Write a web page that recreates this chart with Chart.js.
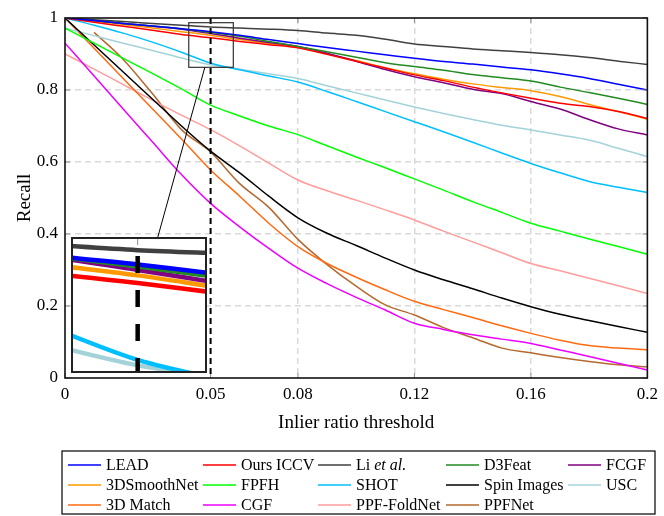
<!DOCTYPE html>
<html>
<head>
<meta charset="utf-8">
<script src="https://cdn.jsdelivr.net/npm/chart.js@4.4.1/dist/chart.umd.min.js"></script>
<style>
  html, body { margin: 0; padding: 0; background: #fff; }
  #wrap { position: relative; width: 664px; height: 516px; }
  #inset { position: absolute; left: 71px; top: 237px; }
</style>
</head>
<body>
<div id="wrap">
  <canvas id="chart" width="664" height="516"></canvas>
  <canvas id="inset" width="136" height="136"></canvas>
</div>
<script>
// inlier ratio thresholds (x) and recall values per method
const thresholds = [0, 0.01, 0.02, 0.03, 0.04, 0.05, 0.06, 0.07, 0.08, 0.09, 0.10,
                    0.11, 0.12, 0.13, 0.14, 0.15, 0.16, 0.17, 0.18, 0.19, 0.20];
const xTicks = [0, 0.05, 0.08, 0.12, 0.16, 0.2];
const yTicks = [0, 0.2, 0.4, 0.6, 0.8, 1];
const markerX = 0.05;
const zoomX = [0.0425, 0.0578];
const zoomY = [0.863, 0.987];

const lead       = [1, .993, .985, .978, .970, .962, .952, .940, .929, .918, .908, .898, .888, .879, .872, .864, .856, .845, .832, .816, .800];
const oursIccv   = [1, .988, .977, .966, .954, .945, .935, .926, .917, .899, .880, .861, .842, .826, .808, .792, .777, .763, .754, .740, .721];
const liEtAl     = [1, .995, .990, .985, .980, .975, .972, .969, .965, .958, .952, .941, .928, .921, .914, .909, .904, .898, .890, .880, .871];
const d3feat     = [1, .993, .985, .978, .970, .960, .949, .935, .921, .906, .891, .876, .865, .855, .843, .834, .825, .808, .793, .777, .760];
const fcgf       = [1, .993, .985, .977, .969, .957, .944, .932, .921, .902, .880, .857, .837, .820, .802, .790, .768, .747, .718, .692, .675];
const smoothNet  = [1, .991, .982, .972, .962, .952, .940, .929, .918, .900, .882, .862, .845, .830, .817, .807, .798, .782, .760, .740, .719];
const fpfh       = [.972, .930, .888, .846, .803, .758, .728, .700, .676, .645, .614, .584, .553, .522, .490, .460, .430, .408, .386, .365, .344];
const shot       = [1, .980, .958, .933, .905, .875, .856, .839, .822, .796, .768, .740, .712, .684, .655, .625, .596, .570, .546, .530, .515];
const spinImages = [1, .925, .850, .775, .700, .630, .570, .505, .445, .402, .368, .333, .300, .273, .248, .222, .198, .177, .160, .143, .127];
const usc        = [.972, .951, .930, .910, .889, .870, .858, .845, .832, .812, .792, .772, .753, .735, .718, .702, .689, .675, .661, .638, .615];
const match3d    = [1, .916, .832, .748, .664, .578, .505, .430, .365, .318, .280, .245, .213, .190, .168, .145, .124, .105, .090, .083, .078];
const cgf        = [.930, .839, .747, .656, .565, .485, .420, .360, .305, .262, .224, .189, .152, .135, .120, .108, .096, .078, .060, .041, .022];
const ppfFoldNet = [.900, .858, .815, .772, .730, .690, .645, .597, .550, .520, .494, .467, .439, .408, .378, .348, .318, .298, .277, .256, .235];
const ppfNet     = [null, .960, .885, .790, .690, .628, .540, .474, .385, .315, .255, .203, .175, .140, .112, .083, .070, .057, .046, .037, .031];

const seriesNames = ["LEAD", "Ours ICCV", "Li et al.", "D3Feat", "FCGF",
                     "3DSmoothNet", "FPFH", "SHOT", "Spin Images", "USC",
                     "3D Match", "CGF", "PPF-FoldNet", "PPFNet"];
const seriesValues = [lead, oursIccv, liEtAl, d3feat, fcgf,
                      smoothNet, fpfh, shot, spinImages, usc,
                      match3d, cgf, ppfFoldNet, ppfNet];
const seriesColors = ["#0000ff", "#ff0000", "#404040", "#228b22", "#800080",
                      "#ff9900", "#00ff00", "#00bfff", "#000000", "#a3d3d8",
                      "#ff6a10", "#ee00ff", "#ff9c9c", "#b5692e"];

const serif = "'Liberation Serif', 'DejaVu Serif', serif";
Chart.defaults.font.family = serif;
Chart.defaults.color = "#000";

function makeDatasets(width) {
  return seriesNames.map((name, i) => ({
    label: name,
    data: thresholds.map((x, j) => ({ x: x, y: seriesValues[i][j] })),
    borderColor: seriesColors[i],
    backgroundColor: seriesColors[i],
    borderWidth: width,
    pointRadius: 0,
    cubicInterpolationMode: "monotone",
    fill: false
  }));
}

const legendCols = [68, 203, 318, 446, 568];
const legendRows = [465, 485, 505];

function drawLabel(ctx, text, x, y) {
  const k = text.indexOf("et al.");
  if (k < 0) { ctx.font = "16px " + serif; ctx.fillText(text, x, y); return; }
  const head = text.slice(0, k);
  ctx.font = "16px " + serif;
  ctx.fillText(head, x, y);
  const w = ctx.measureText(head).width;
  ctx.font = "italic 16px " + serif;
  ctx.fillText(text.slice(k), x + w, y);
}

const decorations = {
  id: "decorations",
  afterDatasetsDraw(chart) {
    const { ctx, chartArea: a, scales } = chart;
    const xs = scales.x, ys = scales.y;
    ctx.save();
    // inward tick marks
    ctx.strokeStyle = "#8c8c8c";
    ctx.lineWidth = 1;
    ctx.beginPath();
    xTicks.forEach(v => {
      const px = xs.getPixelForValue(v);
      ctx.moveTo(px, a.bottom); ctx.lineTo(px, a.bottom - 5);
      ctx.moveTo(px, a.top); ctx.lineTo(px, a.top + 5);
    });
    yTicks.forEach(v => {
      const py = ys.getPixelForValue(v);
      ctx.moveTo(a.left, py); ctx.lineTo(a.left + 5, py);
      ctx.moveTo(a.right, py); ctx.lineTo(a.right - 5, py);
    });
    ctx.stroke();
    // dashed marker line
    const mx = xs.getPixelForValue(markerX);
    ctx.strokeStyle = "#000";
    ctx.lineWidth = 2;
    ctx.setLineDash([6, 4]);
    ctx.beginPath();
    ctx.moveTo(mx, a.top); ctx.lineTo(mx, a.bottom);
    ctx.stroke();
    ctx.setLineDash([]);
    // frame
    ctx.strokeStyle = "#111";
    ctx.lineWidth = 1.6;
    ctx.strokeRect(a.left, a.top, a.right - a.left, a.bottom - a.top);
    // zoom rectangle and connector
    const rx0 = xs.getPixelForValue(zoomX[0]), rx1 = xs.getPixelForValue(zoomX[1]);
    const ry0 = ys.getPixelForValue(zoomY[1]), ry1 = ys.getPixelForValue(zoomY[0]);
    ctx.strokeStyle = "#333";
    ctx.lineWidth = 1.2;
    ctx.strokeRect(rx0, ry0, rx1 - rx0, ry1 - ry0);
    const inset = document.getElementById("inset");
    const ix = inset.offsetLeft, iy = inset.offsetTop, iw = inset.width;
    const c1x = (rx0 + rx1) / 2, c1y = (ry0 + ry1) / 2;
    const c2x = ix + iw / 2, c2y = iy + iw / 2;
    const t0 = (ry1 - c1y) / (c2y - c1y), t1 = (iy - c1y) / (c2y - c1y);
    ctx.strokeStyle = "#000";
    ctx.lineWidth = 1;
    ctx.beginPath();
    ctx.moveTo(c1x + (c2x - c1x) * t0, ry1);
    ctx.lineTo(c1x + (c2x - c1x) * t1, iy);
    ctx.stroke();
    // legend
    ctx.strokeStyle = "#000";
    ctx.lineWidth = 1.2;
    ctx.strokeRect(62, 451, 593, 63);
    ctx.textBaseline = "middle";
    ctx.textAlign = "left";
    ctx.fillStyle = "#000";
    seriesNames.forEach((name, i) => {
      const x = legendCols[i % 5], y = legendRows[Math.floor(i / 5)];
      ctx.strokeStyle = seriesColors[i];
      ctx.lineWidth = 1.6;
      ctx.beginPath();
      ctx.moveTo(x, y); ctx.lineTo(x + 33, y);
      ctx.stroke();
      drawLabel(ctx, name, x + 38, y + 1);
    });
    ctx.restore();
  }
};

new Chart(document.getElementById("chart"), {
  type: "line",
  data: { datasets: makeDatasets(1.5) },
  plugins: [decorations],
  options: {
    responsive: false,
    animation: false,
    devicePixelRatio: 1,
    layout: { padding: { top: 18, right: 14, bottom: 78, left: 10 } },
    plugins: { legend: { display: false }, tooltip: { enabled: false } },
    scales: {
      x: {
        type: "linear",
        min: 0, max: 0.2,
        afterBuildTicks: s => { s.ticks = xTicks.map(v => ({ value: v })); },
        afterFit: s => { s.height = 60; },
        ticks: { callback: v => String(v), font: { size: 17 }, padding: 6, maxRotation: 0 },
        grid: {
          drawTicks: false,
          lineWidth: 1.5,
          color: c => (c.tick && [0.08, 0.12, 0.16].includes(c.tick.value)) ? "#d9d9d9" : "rgba(0,0,0,0)"
        },
        border: { display: false, dash: [6, 4] },
        title: { display: true, text: "Inlier ratio threshold", font: { size: 19 } }
      },
      y: {
        type: "linear",
        min: 0, max: 1,
        afterBuildTicks: s => { s.ticks = yTicks.map(v => ({ value: v })); },
        afterFit: s => { s.width = 55; },
        ticks: { callback: v => String(v), font: { size: 17 }, padding: 7 },
        grid: {
          drawTicks: false,
          lineWidth: 1.5,
          color: c => (c.tick && c.tick.value > 0 && c.tick.value < 1) ? "#d9d9d9" : "rgba(0,0,0,0)"
        },
        border: { display: false, dash: [6, 4] },
        title: { display: true, text: "Recall", font: { size: 19 } }
      }
    }
  }
});

const insetDecor = {
  id: "insetDecor",
  beforeDraw(chart) {
    const ctx = chart.ctx;
    ctx.save();
    ctx.fillStyle = "#fff";
    ctx.fillRect(0, 0, chart.width, chart.height);
    ctx.restore();
  },
  afterDatasetsDraw(chart) {
    const { ctx, chartArea: a, scales } = chart;
    const mx = scales.x.getPixelForValue(markerX);
    ctx.save();
    ctx.strokeStyle = "#8c8c8c";
    ctx.lineWidth = 1;
    ctx.beginPath();
    ctx.moveTo(mx, a.top); ctx.lineTo(mx, a.top + 8);
    ctx.stroke();
    ctx.strokeStyle = "#000";
    ctx.lineWidth = 4.5;
    ctx.setLineDash([17, 17]);
    ctx.lineDashOffset = -2;
    ctx.beginPath();
    ctx.moveTo(mx, a.top + 17); ctx.lineTo(mx, a.bottom);
    ctx.stroke();
    ctx.setLineDash([]);
    ctx.strokeStyle = "#222";
    ctx.lineWidth = 2;
    ctx.strokeRect(1, 1, chart.width - 2, chart.height - 2);
    ctx.restore();
  }
};

new Chart(document.getElementById("inset"), {
  type: "line",
  data: { datasets: makeDatasets(4.5) },
  plugins: [insetDecor],
  options: {
    responsive: false,
    animation: false,
    devicePixelRatio: 1,
    layout: { padding: 0 },
    plugins: { legend: { display: false }, tooltip: { enabled: false } },
    scales: {
      x: { type: "linear", display: false, min: zoomX[0], max: zoomX[1] },
      y: { type: "linear", display: false, min: zoomY[0], max: zoomY[1] }
    }
  }
});
</script>
</body>
</html>
